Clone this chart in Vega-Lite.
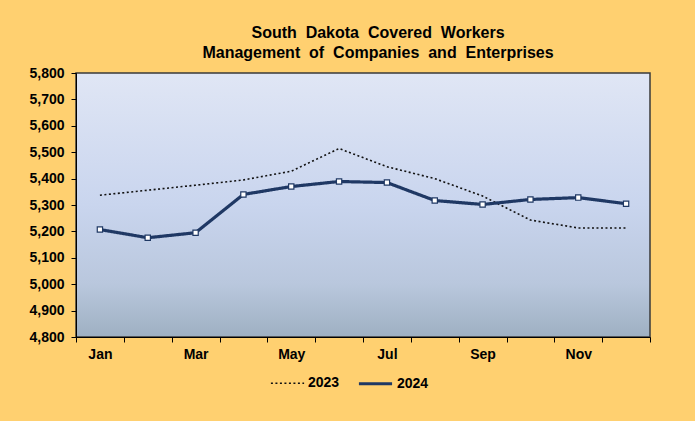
{
  "$schema": "https://vega.github.io/schema/vega-lite/v6.json",
  "width": 574,
  "height": 264,
  "autosize": {"type": "none"},
  "padding": {"left": 76, "top": 73, "right": 45, "bottom": 84},
  "background": "#FFD070",
  "title": {
    "text": ["South\u00a0 Dakota\u00a0 Covered\u00a0 Workers", "Management\u00a0 of\u00a0 Companies\u00a0 and\u00a0 Enterprises"],
    "font": "Liberation Sans",
    "fontSize": 16,
    "fontWeight": "bold",
    "lineHeight": 20,
    "color": "#000000",
    "anchor": "middle",
    "dx": 15,
    "offset": 5
  },
  "config": {
    "view": {
      "stroke": "#3a3a3a",
      "strokeWidth": 1.5,
      "fill": {
        "gradient": "linear",
        "x1": 0, "y1": 0, "x2": 0, "y2": 1,
        "stops": [
          {"offset": 0, "color": "#E0E6F5"},
          {"offset": 0.5, "color": "#C9D5EE"},
          {"offset": 0.8, "color": "#B9C7DD"},
          {"offset": 1, "color": "#9EB0C2"}
        ]
      }
    },
    "font": "Liberation Sans"
  },
  "data": {
    "values": [
      {"month": "Jan", "year": "2023", "workers": 5337},
      {"month": "Feb", "year": "2023", "workers": 5356},
      {"month": "Mar", "year": "2023", "workers": 5375},
      {"month": "Apr", "year": "2023", "workers": 5395},
      {"month": "May", "year": "2023", "workers": 5428},
      {"month": "Jun", "year": "2023", "workers": 5514},
      {"month": "Jul", "year": "2023", "workers": 5445},
      {"month": "Aug", "year": "2023", "workers": 5400},
      {"month": "Sep", "year": "2023", "workers": 5334},
      {"month": "Oct", "year": "2023", "workers": 5243},
      {"month": "Nov", "year": "2023", "workers": 5213},
      {"month": "Dec", "year": "2023", "workers": 5213},
      {"month": "Jan", "year": "2024", "workers": 5207},
      {"month": "Feb", "year": "2024", "workers": 5176},
      {"month": "Mar", "year": "2024", "workers": 5195},
      {"month": "Apr", "year": "2024", "workers": 5340},
      {"month": "May", "year": "2024", "workers": 5370},
      {"month": "Jun", "year": "2024", "workers": 5389},
      {"month": "Jul", "year": "2024", "workers": 5385},
      {"month": "Aug", "year": "2024", "workers": 5317},
      {"month": "Sep", "year": "2024", "workers": 5302},
      {"month": "Oct", "year": "2024", "workers": 5321},
      {"month": "Nov", "year": "2024", "workers": 5328},
      {"month": "Dec", "year": "2024", "workers": 5305}
    ]
  },
  "encoding": {
    "x": {
      "field": "month",
      "type": "ordinal",
      "sort": ["Jan","Feb","Mar","Apr","May","Jun","Jul","Aug","Sep","Oct","Nov","Dec"],
      "scale": {"type": "band", "paddingInner": 0, "paddingOuter": 0},
      "axis": {
        "title": null,
        "labelAngle": 0,
        "tickBand": "extent",
        "labelExpr": "indexof(['Jan','Mar','May','Jul','Sep','Nov'], datum.value) >= 0 ? datum.value : ''",
        "labelFont": "Liberation Sans",
        "labelFontSize": 14,
        "labelFontWeight": "bold",
        "labelColor": "#000000",
        "labelPadding": 5,
        "tickSize": 5,
        "tickColor": "#000000",
        "domainColor": "#000000",
        "grid": false
      }
    },
    "y": {
      "field": "workers",
      "type": "quantitative",
      "scale": {"domain": [4800, 5800], "nice": false, "zero": false},
      "axis": {
        "title": null,
        "values": [4800,4900,5000,5100,5200,5300,5400,5500,5600,5700,5800],
        "format": ",.0f",
        "labelFont": "Liberation Sans",
        "labelFontSize": 14,
        "labelFontWeight": "bold",
        "labelColor": "#000000",
        "labelPadding": 7,
        "tickSize": 5,
        "tickColor": "#000000",
        "domainColor": "#000000",
        "grid": false
      }
    }
  },
  "layer": [
    {
      "mark": {"type": "line", "strokeCap": "butt"},
      "encoding": {
        "color": {
          "field": "year",
          "type": "nominal",
          "scale": {"domain": ["2023", "2024"], "range": ["#111111", "#1F3864"]},
          "legend": {
            "title": null,
            "orient": "none",
            "direction": "horizontal",
            "legendX": 194,
            "legendY": 292,
            "symbolType": "stroke",
            "symbolSize": 1100,
            "labelFont": "Liberation Sans",
            "labelFontSize": 14,
            "labelFontWeight": "bold",
            "labelColor": "#000000",
            "labelOffset": 3,
            "columnPadding": 12
          }
        },
        "strokeDash": {
          "field": "year",
          "type": "nominal",
          "scale": {"domain": ["2023", "2024"], "range": [[2, 2.5], [1, 0]]},
          "legend": {
            "title": null,
            "orient": "none",
            "direction": "horizontal",
            "legendX": 194,
            "legendY": 292,
            "symbolType": "stroke",
            "symbolSize": 1100,
            "labelFont": "Liberation Sans",
            "labelFontSize": 14,
            "labelFontWeight": "bold",
            "labelColor": "#000000",
            "labelOffset": 3,
            "columnPadding": 12
          }
        },
        "strokeWidth": {
          "field": "year",
          "type": "nominal",
          "scale": {"domain": ["2023", "2024"], "range": [1.6, 3.2]},
          "legend": {
            "title": null,
            "orient": "none",
            "direction": "horizontal",
            "legendX": 194,
            "legendY": 292,
            "symbolType": "stroke",
            "symbolSize": 1100,
            "labelFont": "Liberation Sans",
            "labelFontSize": 14,
            "labelFontWeight": "bold",
            "labelColor": "#000000",
            "labelOffset": 3,
            "columnPadding": 12
          }
        }
      }
    },
    {
      "transform": [{"filter": "datum.year == '2024'"}],
      "mark": {"type": "point", "shape": "square", "filled": true, "fill": "#FFFFFF", "stroke": "#1F3864", "strokeWidth": 1.2, "size": 28, "opacity": 1}
    }
  ]
}
